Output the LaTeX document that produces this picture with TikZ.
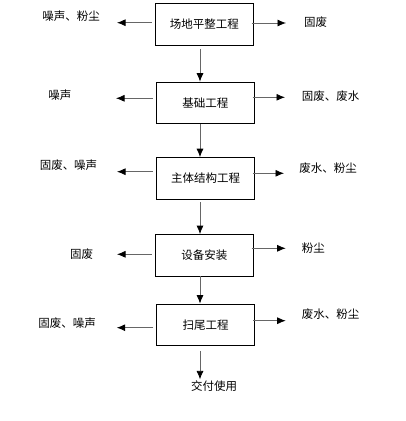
\documentclass[tikz,border=0pt]{standalone}
\usepackage{fontspec}
\setmainfont{Noto Sans CJK SC}
\usetikzlibrary{arrows.meta}

\begin{document}
\begin{tikzpicture}[x=1pt,y=-1pt,
  every node/.style={font=\fontsize{11.5}{13}\selectfont, inner sep=0pt},
  stage/.style={draw, line width=0.7pt, minimum width=98pt, minimum height=41.5pt},
  flow/.style={draw=black!60, line width=0.8pt, -{Latex[length=8.5pt,width=7pt,color=black]}}]
\useasboundingbox (0,0) rectangle (405,421);

\coordinate (axis) at (200,0);

% process boxes
\node [stage] (b1) at (204.3,24.2) {场地平整工程};
\node [stage] (b2) at (205.3,102.8) {基础工程};
\node [stage] (b3) at (205.5,178.3) {主体结构工程};
\node [stage] (b4) at (204.3,255.2) {设备安装};
\node [stage] (b5) at (205.7,324.7) {扫尾工程};
\node (use) at (214,386) {交付使用};

% emissions
\node (nl1) at (71,16) {噪声、粉尘};
\node (nr1) at (315.5,22) {固废};
\node (nl2) at (60,95) {噪声};
\node (nr2) at (330.5,96) {固废、废水};
\node (nl3) at (68.5,165) {固废、噪声};
\node (nr3) at (328,168.3) {废水、粉尘};
\node (nl4) at (81.7,254) {固废};
\node (nr4) at (313.3,248.3) {粉尘};
\node (nl5) at (67,322.7) {固废、噪声};
\node (nr5) at (330.5,314) {废水、粉尘};

\coordinate (l1) at (117,22.7);
\coordinate (r1) at (286,23);
\coordinate (l2) at (116,98.3);
\coordinate (r2) at (285,97.3);
\coordinate (l3) at (117,171.7);
\coordinate (r3) at (284,173.3);
\coordinate (l4) at (117,254.3);
\coordinate (r4) at (285.7,248.3);
\coordinate (l5) at (116.7,327.7);
\coordinate (r5) at (285.7,320.7);

\foreach \i in {1,...,5} {
\draw [flow, shorten <=3pt] (b\i.west |- l\i) -- (l\i);
\draw [flow, shorten <=-2pt] (b\i.east |- r\i) -- (r\i);
}

% main flow
\draw [flow, shorten <=4pt] (b1.south -| axis) -- (b2.north -| axis);
\draw [flow, shorten <=0pt] (b2.south -| axis) -- (b3.north -| axis);
\draw [flow, shorten <=3pt] (b3.south -| axis) -- (b4.north -| axis);
\draw [flow] (b4.south -| axis) -- (b5.north -| axis);
\draw [flow, shorten <=5pt, shorten >=1pt] (b5.south -| axis) -- (use.north -| axis);

\end{tikzpicture}
\end{document}
